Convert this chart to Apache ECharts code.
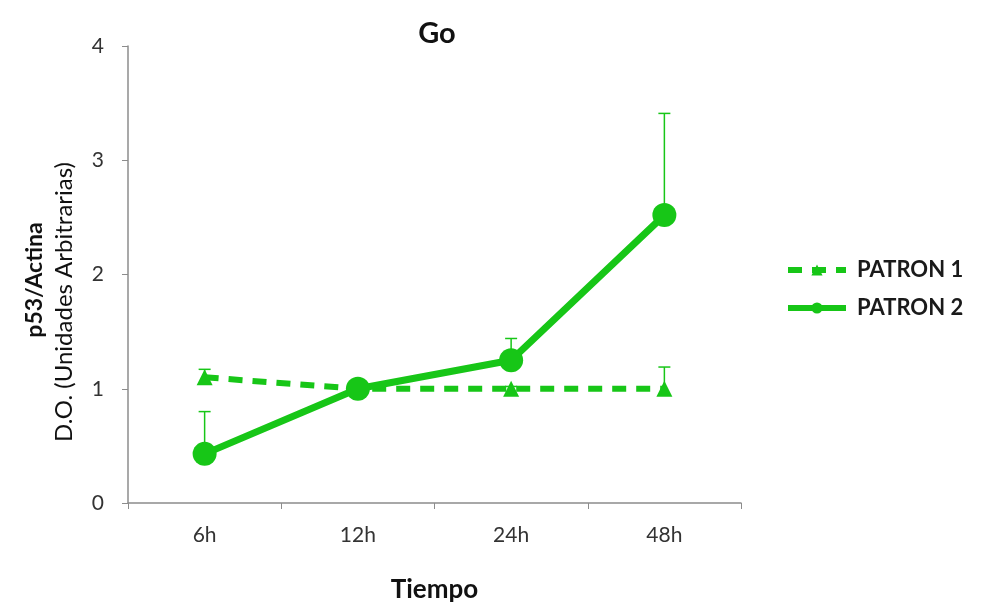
<!DOCTYPE html>
<html>
<head>
<meta charset="utf-8">
<script src="https://cdn.jsdelivr.net/npm/echarts@6/dist/echarts.min.js"></script>
<style>
  html, body { margin: 0; padding: 0; background: #fff; }
  #chart { width: 1002px; height: 604px; }
</style>
</head>
<body>
<div id="chart"></div>
<script>
// data
const categories = ['6h', '12h', '24h', '48h'];
const patron1 = [1.10, 1.00, 1.00, 1.00];
const patron1Err = [0.07, 0, 0.02, 0.19];
const patron2 = [0.43, 1.00, 1.25, 2.52];
const patron2Err = [0.37, 0, 0.19, 0.89];
const yTicks = [0, 1, 2, 3, 4];

const green = '#17c617';
const font = 'Lato, "Open Sans", sans-serif';

let chart = echarts.init(document.getElementById('chart'));

// error bars (upper only) drawn as custom series
function errSeries(vals, errs) {
    return {
        type: 'custom',
        z: 1,
        silent: true,
        data: vals.map((v, i) => [i, v, v + errs[i]]),
        renderItem: function (params, api) {
            if (api.value(2) - api.value(1) < 0.001) return null;
            let p0 = api.coord([api.value(0), api.value(1)]);
            let p1 = api.coord([api.value(0), api.value(2)]);
            let style = { stroke: green, lineWidth: 1.5 };
            return {
                type: 'group',
                children: [
                    { type: 'line', shape: { x1: p0[0], y1: p0[1], x2: p1[0], y2: p1[1] }, style: style },
                    { type: 'line', shape: { x1: p1[0] - 6, y1: p1[1], x2: p1[0] + 6, y2: p1[1] }, style: style }
                ]
            };
        }
    };
}

chart.setOption({
    animation: false,
    title: {
        text: 'Go',
        left: 432,
        top: 14,
        textAlign: 'center',
        textStyle: { fontFamily: font, fontSize: 29, fontWeight: 'bold', color: '#111' }
    },
    grid: { left: 128, right: 261, top: 46, bottom: 101, outerBoundsMode: 'none' },
    legend: {
        orient: 'vertical',
        left: 780,
        top: 254,
        itemWidth: 58,
        itemHeight: 14,
        itemGap: 16,
        data: ['PATRON 1', 'PATRON 2'],
        lineStyle: { width: 6 },
        textStyle: { fontFamily: font, fontSize: 22, fontWeight: 'bold', color: '#1a1a1a', padding: [0, 0, 0, 6] }
    },
    xAxis: {
        type: 'category',
        data: categories,
        boundaryGap: true,
        axisLine: { lineStyle: { color: '#8c8c8c', width: 1.5 } },
        axisTick: { show: true, length: 6, lineStyle: { color: '#8c8c8c' } },
        axisLabel: { fontFamily: font, fontSize: 21, color: '#333', margin: 22 },
        name: 'Tiempo',
        nameLocation: 'middle',
        nameGap: 74,
        nameTextStyle: { fontFamily: font, fontSize: 26, fontWeight: 'bold', color: '#111' }
    },
    yAxis: {
        type: 'value',
        min: yTicks[0],
        max: yTicks[yTicks.length - 1],
        interval: 1,
        splitLine: { show: false },
        axisLine: { show: true, lineStyle: { color: '#8c8c8c', width: 1.5 } },
        axisTick: { show: true, length: 6, lineStyle: { color: '#8c8c8c' } },
        axisLabel: { fontFamily: font, fontSize: 21, color: '#333', margin: 24 }
    },
    graphic: [
        {
            type: 'text',
            x: 35, y: 280,
            rotation: Math.PI / 2,
            style: {
                text: 'p53/Actina',
                font: 'bold 23px ' + font,
                fill: '#111',
                align: 'center',
                verticalAlign: 'middle'
            }
        },
        {
            type: 'text',
            x: 64, y: 302,
            rotation: Math.PI / 2,
            style: {
                text: 'D.O. (Unidades Arbitrarias)',
                font: '24px ' + font,
                fill: '#111',
                align: 'center',
                verticalAlign: 'middle'
            }
        }
    ],
    series: [
        errSeries(patron1, patron1Err),
        errSeries(patron2, patron2Err),
        {
            name: 'PATRON 1',
            type: 'line',
            z: 3,
            data: patron1,
            symbol: 'triangle',
            symbolSize: 16,
            itemStyle: { color: green },
            lineStyle: { color: green, width: 6, type: [14, 10] }
        },
        {
            name: 'PATRON 2',
            type: 'line',
            z: 4,
            data: patron2,
            symbol: 'circle',
            symbolSize: 24,
            itemStyle: { color: green },
            lineStyle: { color: green, width: 7 }
        }
    ]
});
</script>
</body>
</html>
